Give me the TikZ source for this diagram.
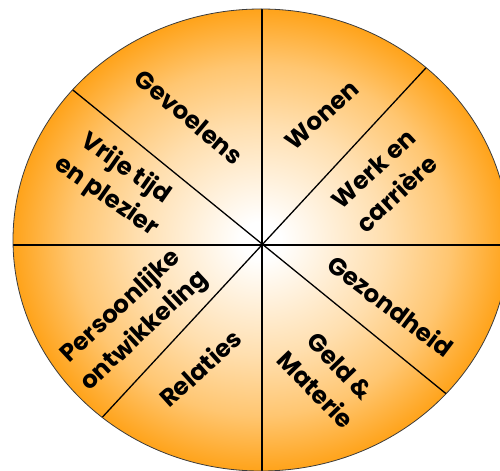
\documentclass[tikz,border=0pt]{standalone}
\usepackage{fontspec}
\newfontfamily\wheelfont{Poppins}
\usetikzlibrary{calc}
\definecolor{wheelorange}{RGB}{255,163,26}
\definecolor{rimgray}{RGB}{60,60,60}
\colorlet{wheelmid}{wheelorange!35!white}
\colorlet{wheelouter}{wheelorange!62!white}
\pgfdeclareradialshading{wheelshade}{\pgfpoint{0bp}{0bp}}{color(0bp)=(white); color(2bp)=(white); color(12.5bp)=(wheelmid); color(19bp)=(wheelouter); color(25bp)=(wheelorange); color(50bp)=(wheelorange)}
\tikzset{
  lbl/.style={font=\wheelfont\bfseries\fontsize{24.5}{34}\selectfont, align=center, inner sep=0pt, text=black},
  divider/.style={line width=1.3bp, draw=black},
  rim/.style={draw=rimgray, line width=0.8bp}
}
\begin{document}
\begin{tikzpicture}[x=1bp,y=-1bp]
\useasboundingbox (0,0) rectangle (500,471);
\clip (0,0) rectangle (500,471);
% wheel
\shade[shading=wheelshade] (261,240) ellipse [x radius=248bp, y radius=231bp];
% centre and rim points of the dividers
\coordinate (c) at (262,245);
\coordinate (top) at (262,0);
\coordinate (bot) at (262,480);
\coordinate (lft) at (0,245);
\coordinate (rgt) at (520,245);
\coordinate (ul) at ($(c)!1.15!(72.7,90)$);
\coordinate (lr) at ($(c)!1.15!(445,393)$);
\coordinate (ur) at ($(c)!1.15!(424,70)$);
\coordinate (ll) at ($(c)!1.15!(100.7,419)$);
\begin{scope}
  \clip (261,240) ellipse [x radius=248bp, y radius=231bp];
  \draw[divider] (top) -- (bot);
  \draw[divider] (lft) -- (rgt);
  \draw[divider] (ul) -- (lr);
  \draw[divider] (ur) -- (ll);
\end{scope}
\draw[rim] (261,240) ellipse [x radius=248bp, y radius=231bp];
% labels
\node[lbl, rotate=-40] (gev) at (189,117) {Gevoelens};
\node[lbl, rotate=42] (won) at (322,115) {Wonen};
\node[lbl, rotate=43] (werk) at (385,181) {Werk en\\carrière};
\node[lbl, rotate=-37] (gez) at (391,306) {Gezondheid};
\node[lbl, rotate=-46] (geld) at (328,378) {Geld \&\\Materie};
\node[lbl, rotate=42] (rel) at (200,368) {Relaties};
\node[lbl, rotate=43] (pers) at (133,319) {Persoonlijke\\ontwikkeling};
\node[lbl, rotate=-35] (vrij) at (116,183) {Vrije tijd\\en plezier};
\end{tikzpicture}
\end{document}
